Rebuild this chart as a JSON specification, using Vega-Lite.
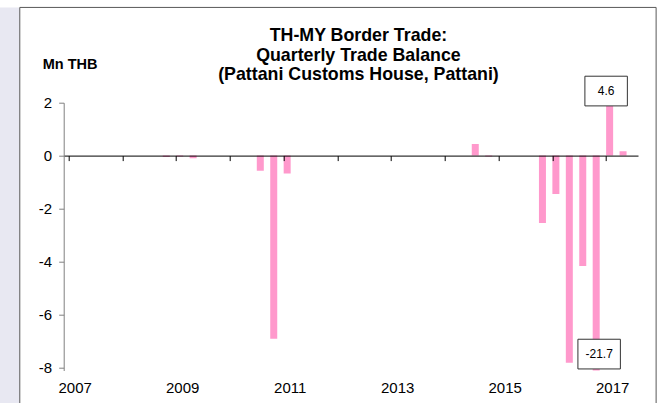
{
  "$schema": "https://vega.github.io/schema/vega-lite/v6.json",
  "width": 574.3,
  "height": 267.8,
  "autosize": "none",
  "padding": {"left": 63.7, "top": 102.7, "right": 32, "bottom": 32.5},
  "background": "white",
  "config": {"font": "Liberation Sans", "view": {"stroke": null}},
  "title": {
    "text": ["TH-MY Border Trade:", "Quarterly Trade Balance", "(Pattani Customs House, Pattani)"],
    "fontSize": 17.8,
    "fontWeight": "bold",
    "color": "black",
    "lineHeight": 19.5,
    "anchor": "middle",
    "frame": "group",
    "baseline": "alphabetic",
    "offset": -91.1,
    "dx": 7.6
  },
  "datasets": {
    "trade": [
      {"period": "2007Q1", "t": 2007.0, "balance": 0},
      {"period": "2007Q2", "t": 2007.25, "balance": 0},
      {"period": "2007Q3", "t": 2007.5, "balance": 0},
      {"period": "2007Q4", "t": 2007.75, "balance": 0},
      {"period": "2008Q1", "t": 2008.0, "balance": 0},
      {"period": "2008Q2", "t": 2008.25, "balance": 0},
      {"period": "2008Q3", "t": 2008.5, "balance": 0},
      {"period": "2008Q4", "t": 2008.75, "balance": -0.05},
      {"period": "2009Q1", "t": 2009.0, "balance": -0.03},
      {"period": "2009Q2", "t": 2009.25, "balance": -0.1},
      {"period": "2009Q3", "t": 2009.5, "balance": 0},
      {"period": "2009Q4", "t": 2009.75, "balance": 0},
      {"period": "2010Q1", "t": 2010.0, "balance": 0},
      {"period": "2010Q2", "t": 2010.25, "balance": 0},
      {"period": "2010Q3", "t": 2010.5, "balance": -0.57},
      {"period": "2010Q4", "t": 2010.75, "balance": -6.92},
      {"period": "2011Q1", "t": 2011.0, "balance": -0.68},
      {"period": "2011Q2", "t": 2011.25, "balance": 0},
      {"period": "2011Q3", "t": 2011.5, "balance": 0},
      {"period": "2011Q4", "t": 2011.75, "balance": 0},
      {"period": "2012Q1", "t": 2012.0, "balance": 0},
      {"period": "2012Q2", "t": 2012.25, "balance": 0},
      {"period": "2012Q3", "t": 2012.5, "balance": 0},
      {"period": "2012Q4", "t": 2012.75, "balance": 0},
      {"period": "2013Q1", "t": 2013.0, "balance": 0},
      {"period": "2013Q2", "t": 2013.25, "balance": 0},
      {"period": "2013Q3", "t": 2013.5, "balance": 0},
      {"period": "2013Q4", "t": 2013.75, "balance": 0},
      {"period": "2014Q1", "t": 2014.0, "balance": 0},
      {"period": "2014Q2", "t": 2014.25, "balance": 0},
      {"period": "2014Q3", "t": 2014.5, "balance": 0.44},
      {"period": "2014Q4", "t": 2014.75, "balance": -0.03},
      {"period": "2015Q1", "t": 2015.0, "balance": 0},
      {"period": "2015Q2", "t": 2015.25, "balance": 0},
      {"period": "2015Q3", "t": 2015.5, "balance": 0},
      {"period": "2015Q4", "t": 2015.75, "balance": -2.55},
      {"period": "2016Q1", "t": 2016.0, "balance": -1.45},
      {"period": "2016Q2", "t": 2016.25, "balance": -7.83},
      {"period": "2016Q3", "t": 2016.5, "balance": -4.17},
      {"period": "2016Q4", "t": 2016.75, "balance": -21.7},
      {"period": "2017Q1", "t": 2017.0, "balance": 4.6},
      {"period": "2017Q2", "t": 2017.25, "balance": 0.17}
    ],
    "notes": [
      {"label": "4.6", "t": 2017.0, "pos": 2.44},
      {"label": "-21.7", "t": 2016.87, "pos": -7.5}
    ]
  },
  "layer": [
    {
      "data": {"values": [{}]},
      "mark": {"type": "rect", "fill": "#e8e8f2", "clip": false},
      "encoding": {
        "x": {"datum": 2004, "type": "quantitative", "scale": {"domain": [2007, 2017.5], "nice": false, "zero": false}},
        "x2": {"datum": 2006.09},
        "y": {"datum": 5.6, "type": "quantitative", "scale": {"domain": [-8.12, 2], "nice": false, "zero": false}},
        "y2": {"datum": -12}
      }
    },
    {
      "data": {"values": [{}]},
      "mark": {"type": "rect", "fill": "white", "stroke": "#595959", "strokeWidth": 1, "clip": false},
      "encoding": {
        "x": {"datum": 2006.09, "type": "quantitative", "scale": {"domain": [2007, 2017.5], "nice": false, "zero": false}},
        "x2": {"datum": 2017.93},
        "y": {"datum": 5.6, "type": "quantitative", "scale": {"domain": [-8.12, 2], "nice": false, "zero": false}},
        "y2": {"datum": -12}
      }
    },
    {
      "data": {"name": "trade"},
      "mark": {"type": "bar", "color": "#ff99cc", "size": 7, "xOffset": 3.5, "clip": true},
      "encoding": {
        "x": {
          "field": "t", "type": "quantitative",
          "scale": {"domain": [2007, 2017.5], "nice": false, "zero": false},
          "axis": {
            "values": [2007, 2008, 2009, 2010, 2011, 2012, 2013, 2014, 2015, 2016, 2017],
            "format": "d",
            "labelExpr": "datum.value % 2 == 1 ? datum.label : ''",
            "title": null,
            "grid": false,
            "orient": "bottom",
            "offset": -214.9,
            "domainColor": "black",
            "domainWidth": 1,
            "tickColor": "black",
            "tickSize": 5,
            "tickWidth": 1,
            "labelFontSize": 15,
            "labelColor": "black",
            "labelPadding": 220,
            "labelOffset": 6,
            "labelFlush": false,
            "labelOverlap": false,
            "zindex": 1
          }
        },
        "y": {
          "field": "balance", "type": "quantitative",
          "scale": {"domain": [-8.12, 2], "nice": false, "zero": false},
          "axis": {
            "values": [-8, -6, -4, -2, 0, 2],
            "labelExpr": "'' + datum.value",
            "grid": false,
            "domainColor": "#808080",
            "tickColor": "#808080",
            "tickSize": 5,
            "labelFontSize": 15,
            "labelColor": "black",
            "labelPadding": 7,
            "title": "Mn THB",
            "titleAngle": 0,
            "titleAlign": "left",
            "titleBaseline": "middle",
            "titleX": -21.5,
            "titleY": -38.5,
            "titleFontSize": 14.5,
            "titleFontWeight": "bold",
            "titleColor": "black",
            "zindex": 1
          }
        }
      }
    },
    {
      "data": {"name": "notes"},
      "mark": {"type": "point", "shape": "M-1.43,-1L1.43,-1L1.43,1L-1.43,1Z", "size": 882, "fill": "white", "stroke": "#333333", "strokeWidth": 1, "opacity": 1, "clip": false},
      "encoding": {
        "x": {"field": "t", "type": "quantitative", "scale": {"domain": [2007, 2017.5], "nice": false, "zero": false}},
        "y": {"field": "pos", "type": "quantitative", "scale": {"domain": [-8.12, 2], "nice": false, "zero": false}}
      }
    },
    {
      "data": {"name": "notes"},
      "mark": {"type": "text", "fontSize": 12, "color": "black", "align": "center", "baseline": "middle", "clip": false},
      "encoding": {
        "x": {"field": "t", "type": "quantitative", "scale": {"domain": [2007, 2017.5], "nice": false, "zero": false}},
        "y": {"field": "pos", "type": "quantitative", "scale": {"domain": [-8.12, 2], "nice": false, "zero": false}},
        "text": {"field": "label"}
      }
    }
  ]
}
